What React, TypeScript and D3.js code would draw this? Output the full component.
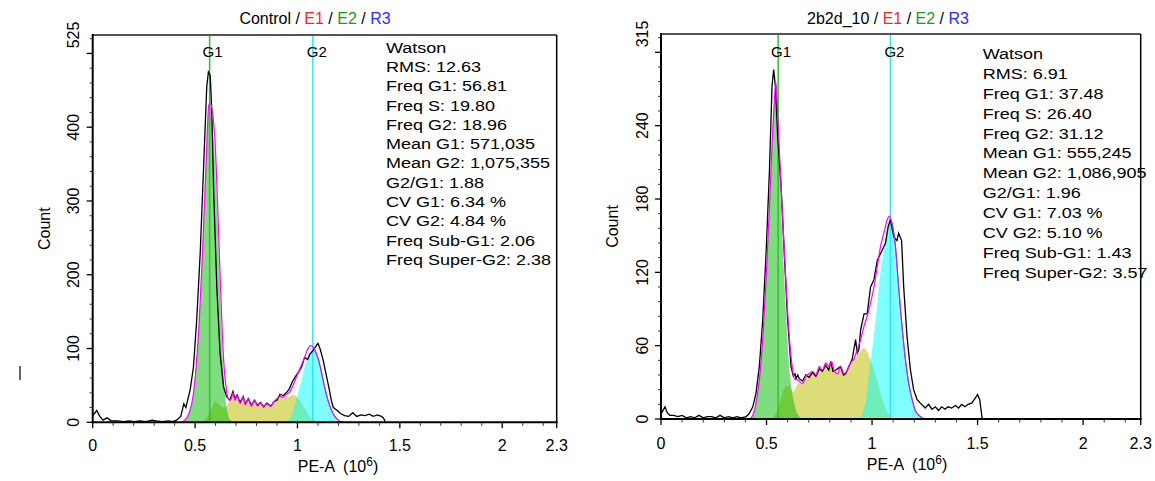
import React from 'react';
import * as d3 from 'd3';

type Pt = [number, number];

// ---- Control (left) ----
const controlHist: Pt[] = [
  [0, 9], [0.02, 16], [0.035, 8], [0.05, 3], [0.07, 6], [0.09, 2], [0.12, 2], [0.15, 1], [0.18, 2], [0.2, 1],
  [0.23, 2], [0.26, 1], [0.29, 3], [0.31, 2], [0.34, 1], [0.37, 2], [0.39, 1], [0.41, 3], [0.43, 8], [0.445, 25],
  [0.455, 20], [0.476, 44], [0.492, 75], [0.508, 139], [0.525, 229], [0.541, 342], [0.557, 455], [0.565, 475],
  [0.574, 470], [0.582, 419], [0.59, 320], [0.606, 184], [0.622, 94], [0.639, 48], [0.655, 34], [0.67, 30],
  [0.685, 42], [0.695, 32], [0.705, 37], [0.72, 27], [0.735, 35], [0.745, 25], [0.76, 32], [0.775, 23], [0.79, 30],
  [0.805, 23], [0.82, 27], [0.835, 21], [0.85, 26], [0.87, 22], [0.885, 28], [0.9, 30], [0.915, 38], [0.93, 36],
  [0.945, 40], [0.96, 45], [0.975, 55], [0.99, 62], [1.005, 68], [1.02, 75], [1.035, 88], [1.05, 85], [1.06, 92],
  [1.075, 97], [1.09, 103], [1.1, 107], [1.11, 100], [1.125, 85], [1.14, 65], [1.155, 45], [1.165, 30], [1.175, 20],
  [1.19, 17], [1.21, 12], [1.23, 9], [1.25, 8], [1.27, 13], [1.29, 8], [1.31, 10], [1.33, 9], [1.35, 11], [1.37, 8],
  [1.39, 10], [1.41, 8], [1.42, 6], [1.43, 0],
];
const controlG1: Pt[] = [
  [0.43, 0], [0.45, 3], [0.47, 12], [0.49, 35], [0.505, 75], [0.52, 135], [0.535, 220], [0.55, 320], [0.56, 390],
  [0.567, 425], [0.575, 430], [0.585, 400], [0.598, 350], [0.61, 270], [0.62, 195], [0.63, 120], [0.64, 62],
  [0.65, 28], [0.66, 11], [0.67, 4], [0.69, 0],
];
const controlS: Pt[] = [
  [0.53, 0], [0.55, 4], [0.57, 12], [0.585, 22], [0.598, 28], [0.61, 26], [0.625, 22], [0.64, 20], [0.655, 22],
  [0.665, 27], [0.675, 32], [0.685, 40], [0.695, 30], [0.705, 36], [0.72, 26], [0.735, 34], [0.745, 24], [0.76, 32],
  [0.775, 22], [0.79, 30], [0.805, 22], [0.82, 26], [0.835, 21], [0.85, 25], [0.87, 22], [0.885, 28], [0.9, 32],
  [0.915, 35], [0.93, 33], [0.945, 36], [0.96, 34], [0.975, 37], [0.99, 36], [1.005, 32], [1.02, 26], [1.035, 19],
  [1.05, 12], [1.065, 6], [1.08, 3], [1.1, 0],
];
const controlG2: Pt[] = [
  [0.94, 0], [0.96, 4], [0.975, 12], [0.99, 26], [1.005, 42], [1.02, 58], [1.035, 74], [1.05, 87], [1.065, 96],
  [1.078, 98], [1.09, 93], [1.105, 82], [1.12, 64], [1.135, 45], [1.15, 29], [1.165, 17], [1.18, 9], [1.195, 4],
  [1.21, 1], [1.225, 0],
];
const controlFit: Pt[] = [
  [0.43, 0], [0.45, 3], [0.47, 12], [0.49, 35], [0.505, 75], [0.52, 135], [0.535, 222], [0.55, 324], [0.56, 396],
  [0.567, 430], [0.575, 432], [0.585, 420], [0.598, 378], [0.61, 296], [0.62, 217], [0.63, 142], [0.64, 82],
  [0.65, 50], [0.66, 33], [0.67, 30], [0.678, 33], [0.685, 40], [0.695, 30], [0.705, 36], [0.72, 26], [0.735, 34],
  [0.745, 24], [0.76, 32], [0.775, 22], [0.79, 30], [0.805, 22], [0.82, 26], [0.835, 21], [0.85, 25], [0.87, 22],
  [0.885, 28], [0.9, 32], [0.915, 35], [0.93, 34], [0.945, 38], [0.96, 40], [0.975, 48], [0.99, 58], [1.005, 68],
  [1.02, 78], [1.035, 88], [1.05, 99], [1.065, 104], [1.078, 102], [1.09, 95], [1.105, 83], [1.12, 64], [1.135, 45],
  [1.15, 29], [1.165, 17], [1.18, 9], [1.195, 4], [1.21, 1], [1.225, 0],
];
const controlStats = [
  'Watson', 'RMS: 12.63', 'Freq G1: 56.81', 'Freq S: 19.80', 'Freq G2: 18.96', 'Mean G1: 571,035',
  'Mean G2: 1,075,355', 'G2/G1: 1.88', 'CV G1: 6.34 %', 'CV G2: 4.84 %', 'Freq Sub-G1: 2.06', 'Freq Super-G2: 2.38',
];
const controlMeans = [0.571, 1.075];

// ---- 2b2d_10 (right) ----
const treatedHist: Pt[] = [
  [0, 4], [0.019, 10], [0.03, 5], [0.042, 3], [0.06, 3], [0.08, 2], [0.1, 3], [0.12, 1], [0.14, 2], [0.16, 1],
  [0.18, 3], [0.2, 1], [0.22, 2], [0.24, 2], [0.26, 1], [0.28, 3], [0.3, 1], [0.32, 2], [0.34, 1], [0.36, 2],
  [0.38, 1], [0.404, 2], [0.42, 5], [0.435, 10], [0.45, 21], [0.466, 43], [0.482, 81], [0.498, 136], [0.514, 204],
  [0.526, 272], [0.534, 286], [0.542, 272], [0.553, 231], [0.569, 190], [0.584, 136], [0.6, 81], [0.616, 43],
  [0.627, 35], [0.635, 37], [0.64, 33], [0.648, 36], [0.655, 33], [0.671, 31], [0.686, 36], [0.702, 34], [0.718, 38],
  [0.734, 35], [0.75, 41], [0.765, 39], [0.78, 44], [0.795, 40], [0.804, 47], [0.815, 39], [0.828, 40], [0.85, 43],
  [0.865, 36], [0.875, 37], [0.89, 43], [0.906, 49], [0.922, 65], [0.93, 54], [0.938, 57], [0.946, 73], [0.962, 86],
  [0.977, 86], [0.993, 108], [1.009, 114], [1.025, 130], [1.048, 138], [1.064, 144], [1.076, 157], [1.087, 163],
  [1.103, 149], [1.118, 146], [1.126, 152], [1.14, 146], [1.15, 108], [1.166, 67], [1.182, 40], [1.197, 24],
  [1.213, 16], [1.229, 13], [1.252, 9], [1.268, 12], [1.284, 8], [1.3, 10], [1.315, 7], [1.33, 10], [1.346, 8],
  [1.36, 10], [1.377, 9], [1.395, 11], [1.41, 9], [1.425, 12], [1.44, 10], [1.455, 12], [1.472, 13], [1.485, 16],
  [1.5, 20], [1.51, 16], [1.522, 0],
];
const treatedG1: Pt[] = [
  [0.42, 0], [0.435, 3], [0.45, 13], [0.466, 32], [0.482, 65], [0.498, 114], [0.514, 174], [0.526, 223],
  [0.537, 258], [0.545, 272], [0.553, 242], [0.561, 208], [0.569, 172], [0.577, 140], [0.593, 84], [0.608, 42],
  [0.624, 19], [0.64, 7], [0.655, 2], [0.67, 0],
];
const treatedS: Pt[] = [
  [0.52, 0], [0.54, 3], [0.56, 12], [0.577, 22], [0.593, 27], [0.608, 27], [0.624, 22], [0.64, 26], [0.655, 30],
  [0.671, 28], [0.686, 35], [0.702, 37], [0.718, 39], [0.734, 36], [0.75, 43], [0.765, 40], [0.781, 46], [0.797, 43],
  [0.809, 47], [0.82, 40], [0.836, 37], [0.851, 43], [0.867, 37], [0.883, 40], [0.898, 46], [0.914, 49], [0.93, 52],
  [0.946, 56], [0.962, 58], [0.977, 55], [0.993, 48], [1.009, 40], [1.025, 31], [1.04, 21], [1.056, 13], [1.072, 6],
  [1.09, 2], [1.11, 0],
];
const treatedG2: Pt[] = [
  [0.94, 0], [0.955, 5], [0.97, 15], [0.98, 28], [0.993, 47], [1.009, 68], [1.025, 94], [1.04, 120], [1.056, 139],
  [1.072, 157], [1.085, 164], [1.095, 160], [1.111, 141], [1.126, 108], [1.142, 76], [1.158, 49], [1.174, 29],
  [1.19, 16], [1.205, 7], [1.229, 2], [1.25, 0],
];
const treatedFit: Pt[] = [
  [0.42, 0], [0.435, 3], [0.45, 13], [0.466, 32], [0.482, 65], [0.498, 114], [0.514, 174], [0.526, 223],
  [0.537, 260], [0.545, 275], [0.553, 250], [0.561, 220], [0.569, 190], [0.577, 163], [0.593, 109], [0.608, 67],
  [0.624, 40], [0.632, 33], [0.648, 32], [0.671, 29], [0.686, 35], [0.702, 37], [0.718, 39], [0.734, 36], [0.75, 43],
  [0.765, 40], [0.781, 46], [0.797, 43], [0.809, 47], [0.82, 40], [0.836, 37], [0.851, 43], [0.867, 37], [0.883, 40],
  [0.898, 46], [0.914, 49], [0.93, 57], [0.946, 65], [0.962, 76], [0.977, 84], [0.993, 95], [1.009, 108],
  [1.025, 125], [1.04, 141], [1.056, 152], [1.072, 163], [1.082, 166], [1.095, 160], [1.111, 141], [1.126, 108],
  [1.142, 76], [1.158, 49], [1.174, 29], [1.19, 16], [1.205, 7], [1.229, 2], [1.25, 0],
];
const treatedStats = [
  'Watson', 'RMS: 6.91', 'Freq G1: 37.48', 'Freq S: 26.40', 'Freq G2: 31.12', 'Mean G1: 555,245',
  'Mean G2: 1,086,905', 'G2/G1: 1.96', 'CV G1: 7.03 %', 'CV G2: 5.10 %', 'Freq Sub-G1: 1.43', 'Freq Super-G2: 3.57',
];
const treatedMeans = [0.555, 1.087];

const xTickValues = [0, 0.5, 1, 1.5, 2];
const xTickLabels = ['0', '0.5', '1', '1.5', '2'];
const xEndLabel = '2.3';
const controlYLabels = [0, 100, 200, 300, 400, 525];
const treatedYLabels = [0, 60, 120, 180, 240, 315];

const FONT = '"Liberation Sans", Arial, Helvetica, sans-serif';

interface PanelProps {
  name: string;
  hist: Pt[]; g1: Pt[]; s: Pt[]; g2: Pt[]; fit: Pt[];
  stats: string[]; means: number[]; yLabels: number[];
  x0: number; x1: number; yTop: number; yBase: number; xMax: number; yMax: number;
  yMajor: number; yMinor: number;
  titleX: number; statsX: number; statsY: number; statsDy: number;
  countX: number; yLabelX: number; xLabelX: number; xLabelY: number; xTickY: number;
}

function Panel(p: PanelProps) {
  const x = d3.scaleLinear().domain([0, p.xMax]).range([p.x0, p.x1]);
  const y = d3.scaleLinear().domain([0, p.yMax]).range([p.yBase, p.yTop]);

  const area = d3.area<Pt>().x(d => x(d[0])).y0(p.yBase).y1(d => y(d[1])).curve(d3.curveMonotoneX);
  const smooth = d3.line<Pt>().x(d => x(d[0])).y(d => y(d[1])).curve(d3.curveMonotoneX);
  const jagged = d3.line<Pt>().x(d => x(d[0])).y(d => y(d[1]));

  const g2Peak = d3.greatest(p.g2, d => d[1])![0];
  const g2Tail = p.g2.filter(d => d[0] >= g2Peak);

  const yMajorTicks = d3.range(0, p.yMax + 1e-6, p.yMajor);
  const yMinorTicks = d3.range(0, p.yMax + 1e-6, p.yMinor).filter(v => Math.abs(v / p.yMajor - Math.round(v / p.yMajor)) > 1e-6);
  const xMinorTicks = d3.range(0, p.xMax, 0.1).filter(v => Math.abs(v * 2 - Math.round(v * 2)) > 1e-6);

  const [m1, m2] = p.means;

  return (
    <g fontFamily={FONT}>
      {/* title */}
      <text x={p.titleX} y={24} textAnchor="middle" fontSize={16} style={{ whiteSpace: 'pre' }}>
        <tspan fill="#000">{p.name + ' / '}</tspan>
        <tspan fill="#ff1f1f">E1</tspan>
        <tspan fill="#000">{' / '}</tspan>
        <tspan fill="#1d9a1d">E2</tspan>
        <tspan fill="#000">{' / '}</tspan>
        <tspan fill="#2a2aff">R3</tspan>
      </text>

      {/* component fills */}
      <path d={area(p.s)!} fill="#dcdc78" />
      <path d={area(p.g1)!} fill="rgb(0,185,0)" fillOpacity={0.5} />
      <path d={area(p.g2)!} fill="rgb(0,255,255)" fillOpacity={0.5} />

      {/* peak markers */}
      <line x1={x(m1)} x2={x(m1)} y1={p.yTop} y2={p.yBase} stroke="#2fbf2f" strokeWidth={1.5} />
      <line x1={x(m2)} x2={x(m2)} y1={p.yTop} y2={p.yBase} stroke="#2ee8ee" strokeWidth={1.5} />
      <text x={x(m1) + 3} y={57} textAnchor="middle" fontSize={15}>G1</text>
      <text x={x(m2) + 4} y={57} textAnchor="middle" fontSize={15}>G2</text>

      {/* histogram + fit */}
      <path d={jagged(p.hist)!} fill="none" stroke="#000" strokeWidth={1.3} />
      <path d={smooth(p.fit)!} fill="none" stroke="#ff00ff" strokeWidth={1.2} />
      <path d={smooth(g2Tail)!} fill="none" stroke="#5a4dff" strokeWidth={1} strokeOpacity={0.8} />

      {/* frame */}
      <line x1={p.x0} x2={p.x1} y1={p.yTop} y2={p.yTop} stroke="#555" strokeWidth={2} />
      <line x1={p.x1} x2={p.x1} y1={p.yTop} y2={p.yBase} stroke="#000" strokeWidth={1.5} />
      <line x1={p.x0} x2={p.x0} y1={p.yTop - 1} y2={p.yBase + 1} stroke="#000" strokeWidth={2} />
      <line x1={p.x0 - 1} x2={p.x1 + 1} y1={p.yBase} y2={p.yBase} stroke="#000" strokeWidth={2} />

      {/* y ticks */}
      {yMajorTicks.map(v => (
        <line key={'ym' + v} x1={p.x0 - 6} x2={p.x0} y1={y(v)} y2={y(v)} stroke="#000" strokeWidth={1.3} />
      ))}
      {yMinorTicks.map(v => (
        <line key={'yn' + v} x1={p.x0 - 3} x2={p.x0} y1={y(v)} y2={y(v)} stroke="#333" strokeWidth={1} />
      ))}
      {p.yLabels.map(v => (
        <text key={'yl' + v} transform={`translate(${p.yLabelX},${y(v)}) rotate(-90)`} textAnchor="middle" fontSize={16}>
          {v}
        </text>
      ))}

      {/* x ticks */}
      {xTickValues.map((v, i) => (
        <g key={'xm' + v}>
          <line x1={x(v)} x2={x(v)} y1={p.yBase} y2={p.yBase + 6} stroke="#000" strokeWidth={1.3} />
          <text x={x(v)} y={p.xTickY} textAnchor="middle" fontSize={16}>{xTickLabels[i]}</text>
        </g>
      ))}
      {xMinorTicks.map(v => (
        <line key={'xn' + v} x1={x(v)} x2={x(v)} y1={p.yBase} y2={p.yBase + 3.5} stroke="#333" strokeWidth={1} />
      ))}
      <line x1={x(p.xMax)} x2={x(p.xMax)} y1={p.yBase} y2={p.yBase + 6} stroke="#000" strokeWidth={1.3} />
      <text x={x(p.xMax)} y={p.xTickY} textAnchor="middle" fontSize={16}>{xEndLabel}</text>

      {/* axis titles */}
      <text transform={`translate(${p.countX},${(p.yTop + p.yBase) / 2}) rotate(-90)`} textAnchor="middle" fontSize={16}>
        Count
      </text>
      <text x={p.xLabelX} y={p.xLabelY} textAnchor="middle" fontSize={16} style={{ whiteSpace: 'pre' }}>
        {'PE-A  (10'}
        <tspan fontSize={12} dy={-6}>6</tspan>
        <tspan dy={6}>)</tspan>
      </text>

      {/* stats */}
      <g transform={`translate(${p.statsX},${p.statsY}) scale(1.2,1)`}>
        {p.stats.map((s, i) => (
          <text key={s} x={0} y={i * p.statsDy} fontSize={15}>{s}</text>
        ))}
      </g>
    </g>
  );
}

export default function App() {
  return (
    <div style={{ position: 'absolute', left: 0, top: 0 }}>
      <svg width={1155} height={481} style={{ display: 'block', background: '#fff' }}>
        <line x1={20} x2={20} y1={366} y2={380} stroke="#333" strokeWidth={1.5} />
        <Panel
          name="Control" hist={controlHist} g1={controlG1} s={controlS} g2={controlG2} fit={controlFit}
          stats={controlStats} means={controlMeans} yLabels={controlYLabels}
          x0={92.7} x1={556.7} yTop={35} yBase={422.3} xMax={2.266} yMax={525} yMajor={100} yMinor={20}
          titleX={315} statsX={386} statsY={52.7} statsDy={19.3}
          countX={50} yLabelX={79} xLabelX={338} xLabelY={472} xTickY={451}
        />
        <Panel
          name="2b2d_10" hist={treatedHist} g1={treatedG1} s={treatedS} g2={treatedG2} fit={treatedFit}
          stats={treatedStats} means={treatedMeans} yLabels={treatedYLabels}
          x0={661} x1={1140.7} yTop={34} yBase={419} xMax={2.273} yMax={315} yMajor={60} yMinor={12}
          titleX={888} statsX={982.7} statsY={59} statsDy={19.9}
          countX={618} yLabelX={648} xLabelX={907} xLabelY={470} xTickY={449}
        />
      </svg>
    </div>
  );
}
